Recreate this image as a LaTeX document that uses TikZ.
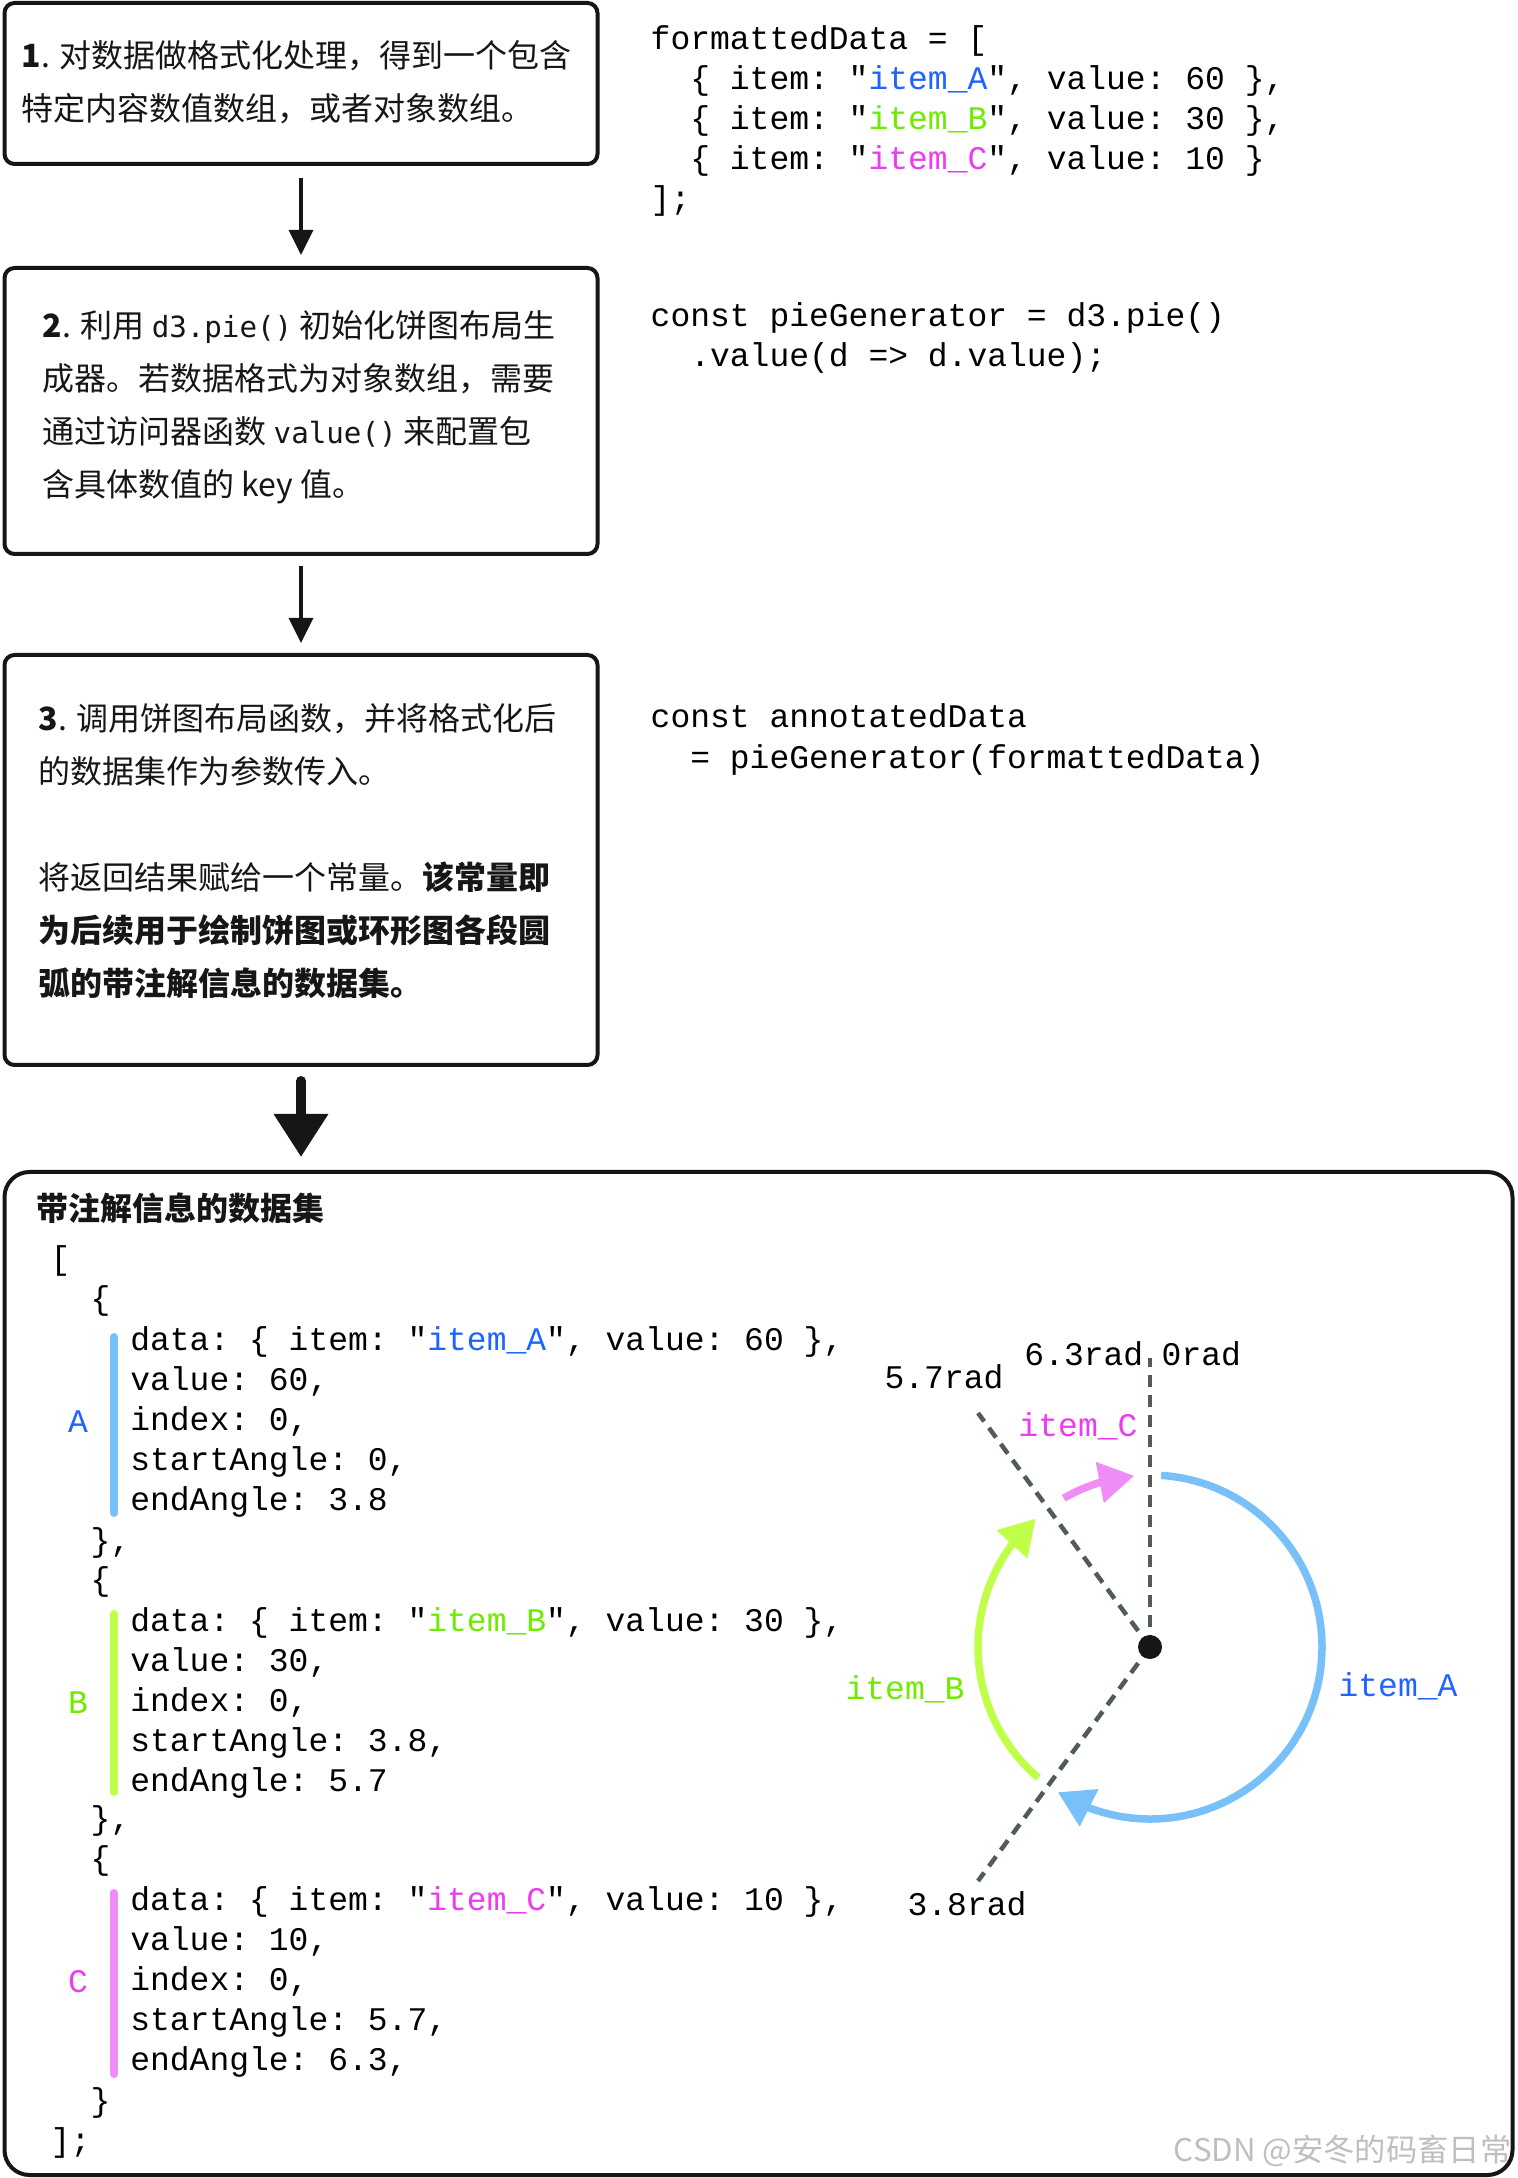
\documentclass[tikz,border=0pt]{standalone}
\usepackage{fontspec}
\setmainfont{Noto Sans CJK SC}
\setmonofont{Liberation Mono}
\newfontfamily\inlinemono{DejaVu Sans Mono}
\usepackage{tikz}
\usetikzlibrary{positioning,arrows.meta,bending}
\definecolor{inkblack}{RGB}{22,22,22}
\definecolor{itemblue}{RGB}{30,100,255}
\definecolor{itemgreen}{RGB}{110,235,0}
\definecolor{itempink}{RGB}{235,60,240}
\definecolor{arcblue}{RGB}{120,192,250}
\definecolor{arcgreen}{RGB}{192,255,72}
\definecolor{arcpink}{RGB}{240,140,245}
\definecolor{dashgray}{RGB}{80,90,95}
\newcommand\boxfont{\fontsize{9.1pt}{15.08pt}\selectfont}
\newcommand\codefont{\ttfamily\fontsize{9.39pt}{11.41pt}\selectfont}
\newcommand\inlinecode[1]{{\inlinemono\fontsize{8.3pt}{15.08pt}\selectfont #1}}
\newcommand\codeindent{\hspace*{3.96mm}}
\newcommand\itemA{\textcolor{itemblue}{item\_A}}
\newcommand\itemB{\textcolor{itemgreen}{item\_B}}
\newcommand\itemC{\textcolor{itempink}{item\_C}}
\tikzset{
  step-box/.style={draw=inkblack, line width=0.4mm, rounded corners=1mm,
    minimum width=59.3mm, inner sep=0pt, outer sep=0pt},
  result-box/.style={draw=inkblack, line width=0.4mm, rounded corners=2.5mm,
    minimum width=150.8mm, minimum height=100.3mm, inner sep=0pt, outer sep=0pt},
  step-text/.style={font=\boxfont, align=left, anchor=west, inner sep=0pt, text=inkblack},
  code-text/.style={font=\codefont, align=left, anchor=west, inner sep=0pt, text=black},
  step-arrow/.style={-{Triangle[length=2.5mm,width=2.4mm]}, line width=0.35mm, draw=inkblack},
  result-arrow/.style={-{Triangle[length=4.3mm,width=5.2mm]}, line width=1mm, draw=inkblack, line cap=round},
  guide-line/.style={draw=dashgray, line width=0.45mm, dash pattern=on 1.2mm off 0.8mm},
  slice-arc/.style={line width=0.75mm, -{Triangle[length=3.5mm,width=4mm,flex]}},
  marker-bar/.style={line width=0.8mm, line cap=round}
}

\begin{document}
\begin{tikzpicture}[x=0.1mm, y=-0.1mm]
\path[fill=white, use as bounding box] (0,0) rectangle (1518,2178);

% Steps (left column)
\node[step-box, minimum height=16.1mm] (box1) at (301,83.5) {};
\node[step-box, below=10.4mm of box1, minimum height=28.6mm] (box2) {};
\node[step-box, below=10.1mm of box2, minimum height=41mm] (box3) {};
\node[result-box, below=10.7mm of box3.south west, anchor=north west] (result) {};
\coordinate (rtop) at (box3.south |- result.north);

\node[step-text] (t1) at (21,82) {\textbf{1}. 对数据做格式化处理，得到一个包含\\特定内容数值数组，或者对象数组。};
\node[step-text] (t2) at (42,407) {\textbf{2}. 利用 \inlinecode{d3.pie()} 初始化饼图布局生\\成器。若数据格式为对象数组，需要\\通过访问器函数 \inlinecode{value()} 来配置包\\含具体数值的 key 值。};
\node[step-text] (t3) at (38,851.5) {\textbf{3}. 调用饼图布局函数，并将格式化后\\的数据集作为参数传入。\\[15.1pt]将返回结果赋给一个常量。\textbf{该常量即}\\\textbf{为后续用于绘制饼图或环形图各段圆}\\\textbf{弧的带注解信息的数据集。}};

\draw[step-arrow] ([yshift=-1.4mm]box1.south) -- ([yshift=1.3mm]box2.north);
\draw[step-arrow] ([yshift=-1.2mm]box2.south) -- ([yshift=1.2mm]box3.north);
\draw[result-arrow] ([yshift=-1.6mm]box3.south) -- ([yshift=1.5mm]rtop);

% Code next to each step
\node[code-text] (fmt) at (650,121) {formattedData = [\\\codeindent\{ item: "\itemA", value: 60 \},\\\codeindent\{ item: "\itemB", value: 30 \},\\\codeindent\{ item: "\itemC", value: 10 \}\\];};
\node[code-text] (gen) at (650,338) {const pieGenerator = d3.pie()\\\codeindent.value(d => d.value);};
\node[code-text] (ann) at (650,739.5) {const annotatedData\\\codeindent= pieGenerator(formattedData)};

% Annotated data set
\node[step-text, font=\boxfont\bfseries] (rtitle) at (36,1208) {带注解信息的数据集};
\node[code-text] (lbrk) at (50,1261) {[};
\node[code-text] (opena) at (90,1301) {\{};
\node[code-text] (dataa) at (129.6,1422) {data: \{ item: "\itemA", value: 60 \},\\value: 60,\\index: 0,\\startAngle: 0,\\endAngle: 3.8};
\node[code-text] (closea) at (90,1543) {\},};
\node[code-text] (openb) at (90,1582) {\{};
\node[code-text] (datab) at (129.6,1703) {data: \{ item: "\itemB", value: 30 \},\\value: 30,\\index: 0,\\startAngle: 3.8,\\endAngle: 5.7};
\node[code-text] (closeb) at (90,1821) {\},};
\node[code-text] (openc) at (90,1861) {\{};
\node[code-text] (datac) at (129.6,1982) {data: \{ item: "\itemC", value: 10 \},\\value: 10,\\index: 0,\\startAngle: 5.7,\\endAngle: 6.3,};
\node[code-text] (closec) at (90,2103) {\}};
\node[code-text] (rbrk) at (50,2143) {];};

\node[code-text, anchor=center, text=itemblue] (tagA) at (78,1422) {A};
\node[code-text, anchor=center, text=itemgreen] (tagB) at (78,1703) {B};
\node[code-text, anchor=center, text=itempink] (tagC) at (78,1982) {C};
\draw[marker-bar, arcblue] (114,1337) -- (114,1513);
\draw[marker-bar, arcgreen] (114,1614) -- (114,1792);
\draw[marker-bar, arcpink] (114,1893) -- (114,2074);

% Pie angles
\coordinate (pie) at (1150,1647);
\coordinate (r0) at (1150,1358);
\coordinate (r57) at (978,1413);
\coordinate (r38) at (978,1881);
\draw[guide-line] (pie) -- (r0);
\draw[guide-line] (pie) -- (r57);
\draw[guide-line] (pie) -- (r38);
\draw[slice-arc, arcblue] (pie) ++(-86.3:172) arc[start angle=-86.3, end angle=122.4, radius=172];
\draw[slice-arc, arcgreen] (pie) ++(130.5:172) arc[start angle=130.5, end angle=228.3, radius=172];
\draw[slice-arc, arcpink] (pie) ++(239.9:172) arc[start angle=239.9, end angle=264.7, radius=172];
\fill[inkblack] (pie) circle[radius=12];

\node[code-text, anchor=east] (l63) at (1144,1354) {6.3rad};
\node[code-text] (l0) at (1161,1354) {0rad};
\node[code-text, anchor=center] (l57) at (944,1377) {5.7rad};
\node[code-text, anchor=center] (l38) at (967,1904) {3.8rad};
\node[code-text, anchor=center, text=itempink] (labC) at (1078,1426) {item\_C};
\node[code-text, anchor=center, text=itemgreen] (labB) at (905,1689) {item\_B};
\node[code-text, anchor=center, text=itemblue] (labA) at (1398,1686) {item\_A};

\node[font=\fontsize{8.9pt}{10pt}\selectfont, text=black!25, anchor=east, inner sep=0pt] (mark) at (1512,2151) {CSDN @安冬的码畜日常};
\end{tikzpicture}
\end{document}
